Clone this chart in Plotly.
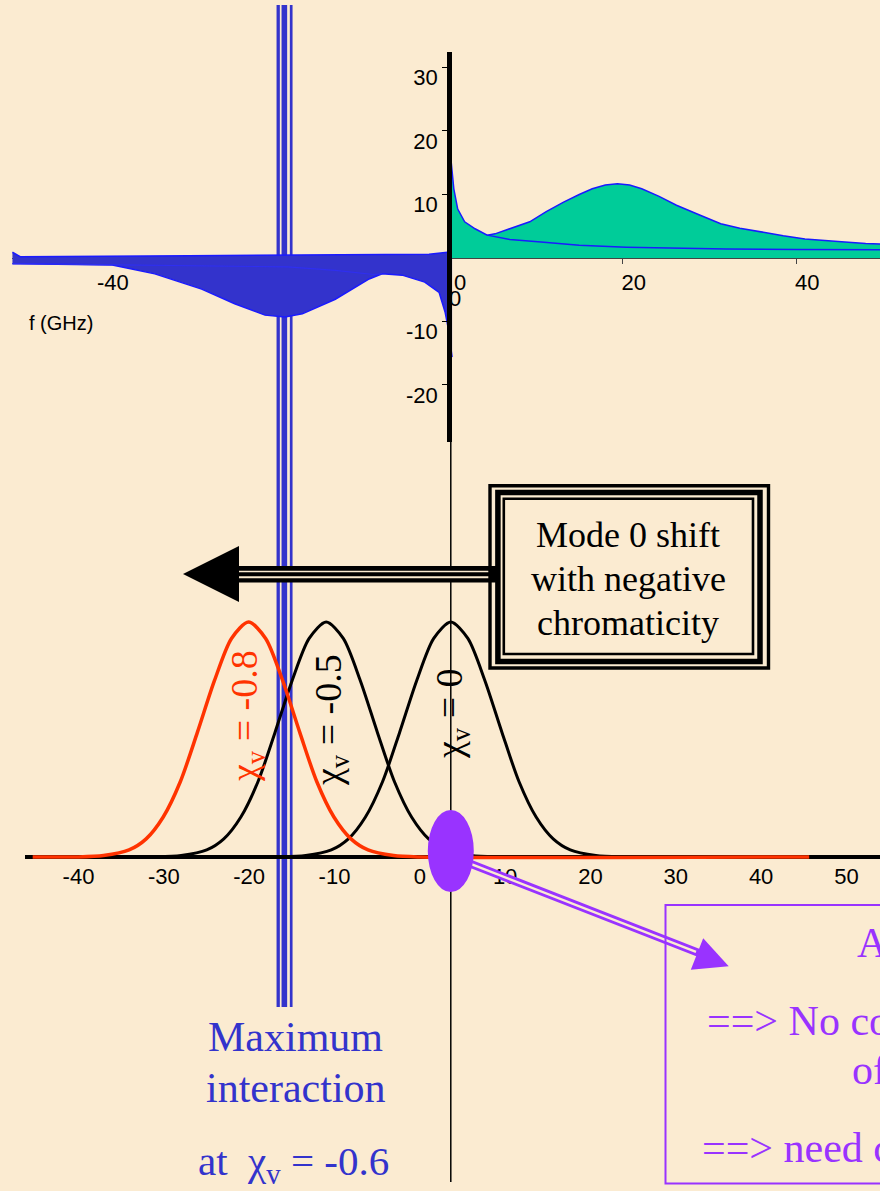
import plotly.graph_objects as go

W, H = 880, 1191
BG = "#fbebd1"
BLUE_FILL = "#3333cc"
BLUE_EDGE = "#1a1aff"
GREEN = "#00cc99"
RED = "#ff3300"
PURPLE = "#9933ff"
SERIF = "Liberation Serif"
SANS = "Liberation Sans"

# ---------------- top panel: spectrum vs f (GHz) ----------------
# negative-frequency lobe (filled blue between upper and lower edge)
neg_upper_f = [-50.3, -49.4, -30.0, -10.0, -2.3, 0.35]
neg_upper_v = [0.9, 0.2, 0.35, 0.5, 0.6, 1.0]
neg_lower_f = [-50.3, -49.4, -38.8, -33.9, -28.5, -24.7, -21.2, -18.9, -16.9,
               -13.1, -9.2, -7.7, -5.4, -2.8, -1.15, -0.46, -0.1, 0.15, 0.35]
neg_lower_v = [-0.9, -0.9, -1.1, -2.5, -4.9, -7.2, -9.0, -9.3, -8.8,
               -6.5, -3.3, -2.5, -2.7, -3.8, -5.4, -8.5, -11.0, -13.5, -15.6]
neg_inner_f = [-50.3, -38.8, -30.0, -18.6, -13.1, -8.7, -7.7]
neg_inner_v = [-0.9, -1.05, -1.15, -1.4, -1.95, -2.6, -2.5]

# positive-frequency lobe (filled green)
pos_outer_f = [0.15, 0.3, 0.55, 1.0, 1.8, 3.0, 4.4, 5.3, 7.0, 9.3, 11.2, 13.2,
               15.0, 16.5, 18.0, 19.4, 20.8, 22.2, 24.2, 26.2, 28.8, 31.3,
               33.5, 35.8, 38.5, 41.0, 43.5, 45.6, 48.0, 50.0]
pos_outer_v = [16.5, 14.0, 10.9, 7.7, 5.7, 4.6, 3.6, 3.8, 4.6, 5.7, 7.3, 8.8,
               10.0, 10.9, 11.5, 11.7, 11.5, 10.9, 9.7, 8.3, 6.8, 5.4,
               4.7, 4.1, 3.5, 3.0, 2.7, 2.5, 2.3, 2.2]
pos_inner_f = [4.4, 7.0, 10.6, 15.0, 20.4, 26.0, 32.0, 40.0, 50.0]
pos_inner_v = [3.6, 2.9, 2.5, 2.0, 1.7, 1.55, 1.4, 1.35, 1.3]

top_xticks = [-40, 0, 20, 40]
top_xlabels = ["-40", "0", "20", "40"]
top_yticks = [-20, -10, 10, 20, 30]
top_ylabels = ["-20", "-10", "10", "20", "30"]

# frequency of maximum interaction (triple blue marker)
max_interaction_f = -18.95

# ---------------- bottom panel: mode-0 spectra for three chromaticities ----------------
mode_f_xi0 = [-50, -20, -17, -14, -12, -10, -8, -6, -4, -2, 0,
              2, 4, 6, 8, 10, 12, 14, 17, 20, 50]
mode_a_xi0 = [0, 0, 0.006, 0.03, 0.077, 0.17, 0.32, 0.53, 0.75, 0.93, 1.0,
              0.93, 0.75, 0.53, 0.32, 0.17, 0.077, 0.03, 0.006, 0, 0]

mode_f_xi05 = [-50, -34.6, -31.6, -28.6, -26.6, -24.6, -22.6, -20.6, -18.6, -16.6, -14.6,
               -12.6, -10.6, -8.6, -6.6, -4.6, -2.6, -0.6, 2.4, 5.4, 50]
mode_a_xi05 = [0, 0, 0.006, 0.03, 0.077, 0.17, 0.32, 0.53, 0.75, 0.93, 1.0,
               0.93, 0.75, 0.53, 0.32, 0.17, 0.077, 0.03, 0.006, 0, 0]

mode_f_xi08 = [-49, -43.7, -40.7, -37.7, -35.7, -33.7, -31.7, -29.7, -27.7, -25.7, -23.7,
               -21.7, -19.7, -17.7, -15.7, -13.7, -11.7, -9.7, -6.7, -3.7, 42]
mode_a_xi08 = [0, 0, 0.006, 0.03, 0.077, 0.17, 0.32, 0.53, 0.75, 0.93, 1.0,
               0.93, 0.75, 0.53, 0.32, 0.17, 0.077, 0.03, 0.006, 0, 0]

bottom_xticks = [-40, -30, -20, -10, 0, 10, 20, 30, 40, 50]
bottom_xlabels = ["-40", "-30", "-20", "-10", "0", "10", "20", "30", "40", "50"]


def px(x):
    return x / W


def py(y):
    return 1 - y / H


fig = go.Figure()

# top panel traces
fig.add_trace(go.Scatter(x=neg_upper_f, y=neg_upper_v, mode="lines",
                         line=dict(color=BLUE_EDGE, width=1.5),
                         xaxis="x", yaxis="y", hoverinfo="skip"))
fig.add_trace(go.Scatter(x=neg_lower_f, y=neg_lower_v, mode="lines",
                         line=dict(color=BLUE_EDGE, width=1.5),
                         fill="tonexty", fillcolor=BLUE_FILL,
                         xaxis="x", yaxis="y", hoverinfo="skip"))
fig.add_trace(go.Scatter(x=neg_inner_f, y=neg_inner_v, mode="lines",
                         line=dict(color="#2f2ff0", width=1.2),
                         xaxis="x", yaxis="y", hoverinfo="skip"))
fig.add_trace(go.Scatter(x=pos_outer_f, y=pos_outer_v, mode="lines",
                         line=dict(color=BLUE_EDGE, width=1.5),
                         fill="tozeroy", fillcolor=GREEN,
                         xaxis="x", yaxis="y", hoverinfo="skip"))
fig.add_trace(go.Scatter(x=pos_inner_f, y=pos_inner_v, mode="lines",
                         line=dict(color=BLUE_EDGE, width=1.5),
                         xaxis="x", yaxis="y", hoverinfo="skip"))

# bottom panel traces
for f, a in [(mode_f_xi0, mode_a_xi0), (mode_f_xi05, mode_a_xi05)]:
    fig.add_trace(go.Scatter(x=f, y=a, mode="lines",
                             line=dict(color="black", width=3, shape="spline", smoothing=0.8),
                             xaxis="x2", yaxis="y2", hoverinfo="skip"))
fig.add_trace(go.Scatter(x=mode_f_xi08, y=mode_a_xi08, mode="lines",
                         line=dict(color=RED, width=3.5, shape="spline", smoothing=0.8),
                         xaxis="x2", yaxis="y2", hoverinfo="skip"))

shapes = []
# triple blue marker of maximum interaction (drawn beneath the traces)
band = dict(type="rect", xref="x", xsizemode="pixel", xanchor=max_interaction_f,
            yref="paper", y0=py(1007), y1=py(5), line=dict(width=0), layer="below")
shapes.append({**band, "x0": -8, "x1": 8, "fillcolor": BLUE_FILL})
shapes.append({**band, "x0": -4.7, "x1": -3.0, "fillcolor": BG})
shapes.append({**band, "x0": 2.6, "x1": 5.3, "fillcolor": BG})

# thin vertical line at f = 0 below the upper panel
shapes.append(dict(type="line", xref="x2", x0=0, x1=0, yref="paper",
                   y0=py(1182), y1=py(440), line=dict(color="black", width=1.5)))

# black arrow (triple shaft) pointing to the left
shapes.append(dict(type="rect", xref="paper", yref="paper", x0=px(236), x1=px(496),
                   y0=py(582.6), y1=py(566), fillcolor="black", line=dict(width=0)))
shapes.append(dict(type="rect", xref="paper", yref="paper", x0=px(239), x1=px(489),
                   y0=py(572.3), y1=py(570.7), fillcolor=BG, line=dict(width=0)))
shapes.append(dict(type="rect", xref="paper", yref="paper", x0=px(239), x1=px(489),
                   y0=py(578.3), y1=py(576.3), fillcolor=BG, line=dict(width=0)))
shapes.append(dict(type="path", xref="paper", yref="paper",
                   path=f"M {px(183)} {py(574)} L {px(239)} {py(546)} L {px(239)} {py(602)} Z",
                   fillcolor="black", line=dict(width=0)))

# framed text box (triple border)
for (l, t, r, b, w) in [(490, 485.7, 768.5, 668, 3.4),
                        (497.9, 492.5, 760, 661.5, 5.5),
                        (503.8, 498.7, 753, 654, 2.6)]:
    shapes.append(dict(type="rect", xref="paper", yref="paper", x0=px(l), x1=px(r),
                       y0=py(b), y1=py(t), line=dict(color="black", width=w)))

# purple double arrow from the mode-0 marker to the note box
shapes.append(dict(type="line", xref="paper", yref="paper", x0=px(466), y0=py(862),
                   x1=px(699), y1=py(953), line=dict(color=PURPLE, width=8)))
shapes.append(dict(type="line", xref="paper", yref="paper", x0=px(470), y0=py(863.6),
                   x1=px(696), y1=py(951.8), line=dict(color=BG, width=2.4)))
shapes.append(dict(type="path", xref="paper", yref="paper",
                   path=(f"M {px(728.7)} {py(966.3)} L {px(703.2)} {py(938.2)} "
                         f"L {px(690.8)} {py(969.8)} Z"),
                   fillcolor=PURPLE, line=dict(width=0)))
shapes.append(dict(type="circle", xref="x2", xsizemode="pixel", xanchor=0, x0=-23, x1=23,
                   yref="paper", y0=py(892), y1=py(810), fillcolor=PURPLE,
                   line=dict(width=0)))
shapes.append(dict(type="rect", xref="paper", yref="paper", x0=px(665.5), x1=px(905),
                   y0=py(1183.5), y1=py(905), line=dict(color=PURPLE, width=2)))

annotations = []


def note(x, y, text, size, color, family=SERIF, xanchor="center", angle=0):
    annotations.append(dict(xref="paper", yref="paper", x=px(x), y=py(y), text=text,
                            showarrow=False, xanchor=xanchor, yanchor="middle",
                            textangle=angle,
                            font=dict(family=family, size=size, color=color)))


note(61, 323, "f (GHz)", 20, "black", family=SANS)
note(455, 299, "0", 22, "black", family=SANS)
note(628, 535, "Mode 0 shift", 36, "black")
note(628, 579, "with negative", 36, "black")
note(628, 623, "chromaticity", 36, "black")
note(247, 716, "χ<sub>v</sub> = -0.8", 38, RED, angle=-90)
note(331, 720, "χ<sub>v</sub> = -0.5", 38, "black", angle=-90)
note(452, 714, "χ<sub>v</sub> = 0", 38, "black", angle=-90)
note(295, 1037, "Maximum", 42, BLUE_FILL)
note(296, 1088, "interaction", 42, BLUE_FILL)
note(293, 1164, "at\u00a0 χ<sub>v</sub> = -0.6", 41, BLUE_FILL)
note(855, 943, "A", 42, PURPLE, xanchor="left")
note(705, 1021, "==> No co", 42, PURPLE, xanchor="left")
note(850, 1070, "of", 42, PURPLE, xanchor="left")
note(700, 1148, "==> need c", 42, PURPLE, xanchor="left")

tick_font = dict(family=SANS, size=22, color="black")

fig.update_layout(
    width=W, height=H, autosize=False,
    margin=dict(l=0, r=0, t=0, b=0, pad=0),
    paper_bgcolor=BG, plot_bgcolor="rgba(0,0,0,0)",
    showlegend=False,
    shapes=shapes, annotations=annotations,
    xaxis=dict(domain=[px(12), 1], range=[-50.35, 49.65], anchor="free", position=py(258),
               showline=True, linecolor="#444", linewidth=1, layer="below traces",
               ticks="outside", ticklen=5, tickcolor="#444",
               tickvals=top_xticks, ticktext=top_xlabels,
               tickfont=tick_font, ticklabelshift=11, ticklabelstandoff=0,
               showgrid=False, zeroline=False, fixedrange=True),
    yaxis=dict(domain=[py(442), py(52)], range=[-28.98, 32.44], anchor="free",
               position=px(449), side="left",
               showline=True, linecolor="black", linewidth=4.5, layer="above traces",
               ticks="outside", ticklen=5, tickcolor="black",
               tickvals=top_yticks, ticktext=top_ylabels,
               tickfont=tick_font, ticklabelshift=10,
               showgrid=False, zeroline=False, fixedrange=True),
    xaxis2=dict(domain=[px(25), 1], range=[-49.9, 50.3], anchor="free", position=py(857),
                showline=False, ticks="", tickvals=bottom_xticks, ticktext=bottom_xlabels,
                tickfont=dict(family=SANS, size=22, color="black"),
                ticklabelshift=-31, ticklabelstandoff=4,
                showgrid=False, zeroline=False, fixedrange=True),
    yaxis2=dict(domain=[py(872), py(590)], range=[-0.064, 1.136], anchor="x2",
                showticklabels=False, ticks="", showgrid=False, showline=False,
                zeroline=True, zerolinecolor="black", zerolinewidth=4, fixedrange=True),
)

fig.write_html("out.html")
